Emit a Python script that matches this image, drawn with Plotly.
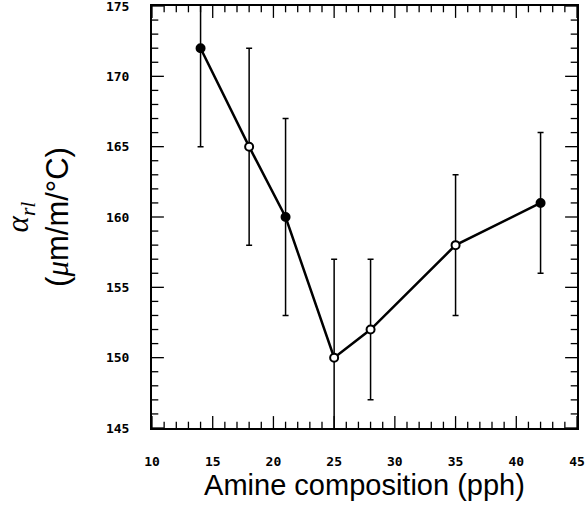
import plotly.graph_objects as go

# Amine composition (pph) vs. thermal expansion coefficient
amine_pph = [14, 18, 21, 25, 28, 35, 42]
alpha_rl = [172, 165, 160, 150, 152, 158, 161]
err_plus = [7, 7, 7, 7, 5, 5, 5]
err_minus = [7, 7, 7, 7, 5, 5, 5]
filled = [True, False, True, False, False, False, True]

x_ticks = [10, 15, 20, 25, 30, 35, 40, 45]
y_ticks = [145, 150, 155, 160, 165, 170, 175]
x_minor = [v for v in range(x_ticks[0], x_ticks[-1] + 1) if v not in x_ticks]
y_minor = [v for v in range(y_ticks[0], y_ticks[-1] + 1) if v not in y_ticks]

x_lo, x_hi = x_ticks[0], x_ticks[-1]
y_lo, y_hi = y_ticks[0], y_ticks[-1]

fig = go.Figure()

# inward frame ticks: half-length line markers centred on the frame, clipped by the plot area
def frame_ticks(xs, ys, symbol, size):
    fig.add_trace(go.Scatter(
        x=xs, y=ys, mode="markers", hoverinfo="skip", showlegend=False,
        marker=dict(symbol=symbol, size=size, color="black",
                    line=dict(color="black", width=1.3)),
    ))

for vals, size in ((x_ticks, 17), (x_minor, 9)):
    frame_ticks(vals * 2, [y_lo] * len(vals) + [y_hi] * len(vals), "line-ns-open", size)
for vals, size in ((y_ticks, 17), (y_minor, 9)):
    frame_ticks([x_lo] * len(vals) + [x_hi] * len(vals), vals * 2, "line-ew-open", size)

fig.add_trace(go.Scatter(
    x=amine_pph, y=alpha_rl,
    mode="lines+markers",
    line=dict(color="black", width=2.5),
    marker=dict(size=8, symbol="circle",
                color=["black" if f else "white" for f in filled],
                line=dict(color="black", width=2)),
    error_y=dict(type="data", symmetric=False, array=err_plus, arrayminus=err_minus,
                 color="black", thickness=1.5, width=3),
    showlegend=False,
))

tick_font = dict(family="DejaVu Sans Mono", size=13, color="black")
title_font = dict(family="Liberation Sans", size=29, color="black")
serif = "font-family:Liberation Serif"

fig.update_xaxes(
    range=[x_lo, x_hi], tickvals=x_ticks, ticktext=[f"<b>{v}</b>" for v in x_ticks],
    ticks="", showline=True, linecolor="black", linewidth=2, mirror=True,
    showgrid=False, zeroline=False, tickfont=tick_font, automargin=False,
    ticklabelstandoff=20, ticklabeloverflow="allow",
    title=dict(text="Amine composition (pph)", font=title_font, standoff=4),
)
fig.update_yaxes(
    range=[y_lo, y_hi], tickvals=y_ticks, ticktext=[f"<b>{v}</b>" for v in y_ticks],
    ticks="", showline=True, linecolor="black", linewidth=2, mirror=True,
    showgrid=False, zeroline=False, tickfont=tick_font, automargin=False,
    ticklabelstandoff=18, ticklabeloverflow="allow",
    title=dict(text=f"<span style='{serif}'><i>α<sub>rl</sub></i></span><br>"
                    f"(<span style='{serif}'><i>μ</i></span>m/m/°C)",
               font=dict(family="Liberation Sans", size=31, color="black"), standoff=28),
)

fig.update_layout(
    width=587, height=510,
    margin=dict(l=152, r=10, t=6, b=82),
    plot_bgcolor="white", paper_bgcolor="white",
)

fig.write_html("out.html")
